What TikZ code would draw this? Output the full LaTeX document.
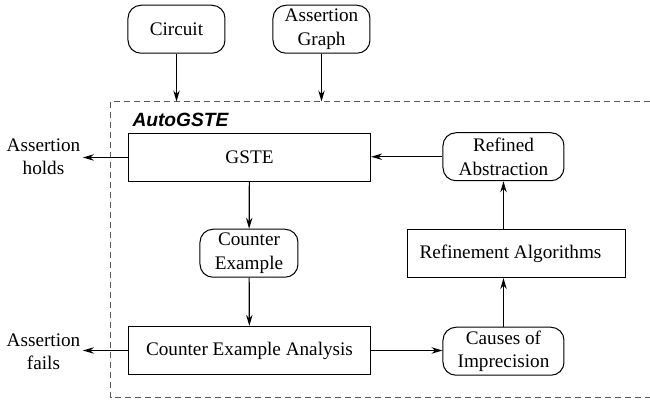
\documentclass[tikz,border=0pt]{standalone}
\usepackage{fontspec}
\setmainfont{Liberation Serif}
\newfontfamily\labelfont{Liberation Sans}
\usetikzlibrary{arrows.meta, positioning}

\begin{document}
\begin{tikzpicture}[x=0.5pt,y=-0.5pt,
    font=\fontsize{9.6}{11.6}\selectfont,
    every path/.style={line width=0.6pt},
    blk/.style={draw, minimum width=121pt, minimum height=24pt, inner sep=0pt},
    rblk/.style={draw, line width=0.5pt, rounded corners=6.5pt, minimum height=24pt, inner sep=0pt, align=center},
    outtxt/.style={align=center, inner sep=1pt},
    flow/.style={-{Stealth[length=5.5pt,width=3.2pt,inset=1.8pt]}}]
  \useasboundingbox (0,0) rectangle (650,405);
  % inputs
  \node[rblk, minimum width=48.5pt] (circuit) at (176.5,29.25) {Circuit};
  \node[rblk, minimum width=48.5pt] (agraph)  at (321.5,29.25) {Assertion\\Graph};
  % AutoGSTE frame (right side runs off the page)
  \draw[dashed, dash pattern=on 3pt off 2pt, gray!70!black]
    (650,101.5) -- (110.5,101.5) -- (110.5,397.5) -- (650,397.5);
  \coordinate (cin) at (176.5,101.5);
  \coordinate (ain) at (321.5,101.5);
  \node[font=\labelfont\bfseries\itshape\fontsize{9.6}{11}\selectfont, inner sep=0pt] (auto) at (180.5,120) {AutoGSTE};
  % main loop
  \node[blk] (gste) at (249.5,157.5) {GSTE};
  \node[rblk, minimum width=49pt] (cex) at (249,253.25) {Counter\\Example};
  \node[blk] (cea) at (249.5,350.5) {Counter Example Analysis};
  \node[rblk, minimum width=60.5pt] (causes) at (503.5,351.25) {Causes of\\Imprecision};
  \node[blk, minimum width=109pt] (refalg) at (516.5,253.5) {Refinement Algorithms\hspace*{6pt}};
  \node[rblk, minimum width=60.5pt] (refabs) at (503.5,156.75) {Refined\\Abstraction};
  % results
  \node[outtxt] (holds) at (43.5,157) {Assertion\\holds};
  \node[outtxt] (fails) at (43.5,352) {Assertion\\fails};
  \draw[flow] (circuit) -- (cin);
  \draw[flow] (agraph) -- (ain);
  \draw[flow] (gste.west) -- (holds.east |- gste.west);
  \draw[flow] (gste) -- (cex);
  \draw[flow] (cex) -- (cea);
  \draw[flow] (cea.west) -- (fails.east |- cea.west);
  \draw[flow] (cea.east) -- (causes.west |- cea.east);
  \draw[flow] (causes) -- (causes |- refalg.south);
  \draw[flow] (refalg.north -| refabs) -- (refabs);
  \draw[flow] (refabs.west) -- (gste.east |- refabs.west);
\end{tikzpicture}
\end{document}
